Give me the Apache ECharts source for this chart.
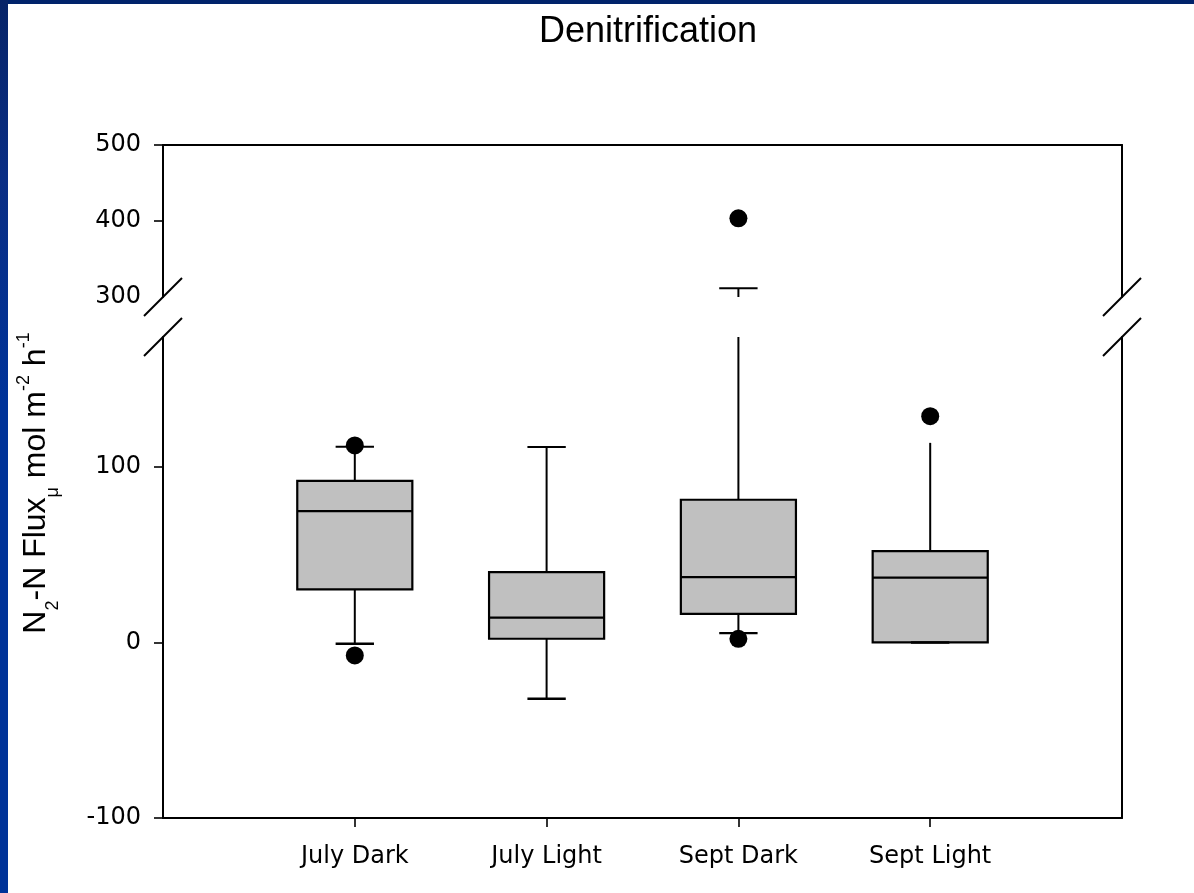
<!DOCTYPE html>
<html>
<head>
<meta charset="utf-8">
<title>Denitrification</title>
<script src="https://cdn.jsdelivr.net/npm/echarts@6/dist/echarts.min.js"></script>
<style>
  html, body { margin: 0; padding: 0; background: #fff; }
  #wrap { position: relative; width: 1194px; height: 893px; overflow: hidden; background: #fff; }
  #chart { position: absolute; left: 0; top: 0; width: 1194px; height: 893px; }
  .bar-top { position: absolute; left: 0; top: 0; width: 1194px; height: 4px; background: #00236b; z-index: 2; }
  .bar-left { position: absolute; left: 0; top: 0; width: 8px; height: 893px; z-index: 2;
    background: linear-gradient(to bottom, #072468 0%, #0a2e84 20%, #003399 45%, #003399 100%); }
</style>
</head>
<body>
<div id="wrap">
  <div id="chart"></div>
  <div class="bar-top"></div>
  <div class="bar-left"></div>
</div>
<script>
// data
const categories = ['July Dark', 'July Light', 'Sept Dark', 'Sept Light']
const whiskerLow = [-0.7, -32.1, 5.3, 0]
const quartile1 = [30.2, 2.1, 16.3, 0]
const medians = [74.8, 14.1, 37.2, 36.9]
const quartile3 = [92.0, 40.1, 81.3, 52.0]
const whiskerHigh = [111.5, 111.3, 311.5, 113.7]
const outlierCategory = [0, 0, 2, 2, 3]
const outlierValues = [112.2, -7.4, 403.6, 2.1, 128.9]
const upperTicks = [300, 400, 500]
const lowerTicks = [-100, 0, 100]

// broken y axis: lower part and upper part
const lowerRange = [-100, 174]
const upperRange = [300, 500]

// rendering settings
const BOX_WIDTH = 0.6 // in category units
const CAP_WIDTH = 0.2
const topCapShown = [true, true, true, false]
const LABEL_FONT = 'DejaVu Sans'
const AXIS_COLOR = '#000'

const boxData = categories.map((c, i) => [i + 1, whiskerLow[i], quartile1[i], medians[i], quartile3[i], whiskerHigh[i]])
const outlierData = outlierValues.map((v, k) => [outlierCategory[k] + 1, v])

const renderBox = (params, api) => {
  const x = api.value(0)
  const lo = api.coord([x, api.value(1)])
  const q1 = api.coord([x, api.value(2)])
  const md = api.coord([x, api.value(3)])
  const q3 = api.coord([x, api.value(4)])
  const hi = api.coord([x, api.value(5)])
  const boxW = api.size([BOX_WIDTH, 0])[0]
  const capW = api.size([CAP_WIDTH, 0])[0]
  const cx = md[0]
  const lineStyle = { stroke: '#000', lineWidth: 2, fill: null }

  const children = [
    { type: 'line', shape: { x1: cx, y1: q3[1], x2: cx, y2: hi[1] }, style: lineStyle },
    { type: 'line', shape: { x1: cx, y1: q1[1], x2: cx, y2: lo[1] }, style: lineStyle },
    {
      type: 'rect',
      shape: { x: cx - boxW / 2, y: q3[1], width: boxW, height: q1[1] - q3[1] },
      style: { fill: '#c0c0c0', stroke: '#000', lineWidth: 2.2 }
    },
    { type: 'line', shape: { x1: cx - boxW / 2, y1: md[1], x2: cx + boxW / 2, y2: md[1] }, style: { stroke: '#000', lineWidth: 2.2 } }
  ]
  if (topCapShown[params.dataIndex]) {
    children.push({ type: 'line', shape: { x1: cx - capW / 2, y1: hi[1], x2: cx + capW / 2, y2: hi[1] }, style: lineStyle })
  }
  // bottom cap drawn last so it sits over the box edge
  children.push({ type: 'line', shape: { x1: cx - capW / 2, y1: lo[1], x2: cx + capW / 2, y2: lo[1] }, style: { stroke: '#000', lineWidth: 2.4 } })
  return { type: 'group', children }
}

const axisLine = { show: true, onZero: false, lineStyle: { color: AXIS_COLOR, width: 2 } }
const labelStyle = { color: '#000', fontFamily: LABEL_FONT, fontSize: 24 }

const frameAxis = (gridIndex, position, range) => ({
  type: 'value', gridIndex, position, min: range[0], max: range[1],
  axisLine, axisTick: { show: false }, axisLabel: { show: false }, splitLine: { show: false }
})

const chart = echarts.init(document.getElementById('chart'), null, { renderer: 'canvas' })

const option = {
  animation: false,
  backgroundColor: 'transparent',
  title: {
    text: 'Denitrification',
    left: 643,
    top: 9,
    textAlign: 'center',
    textStyle: { fontFamily: 'Liberation Sans', fontSize: 36, fontWeight: 'normal', color: '#000' }
  },
  grid: [
    { left: 163, width: 959, top: 145, height: 152, containLabel: false },
    { left: 163, width: 959, top: 337, height: 481, containLabel: false }
  ],
  xAxis: [
    {
      type: 'value', gridIndex: 0, position: 'top', min: 0, max: 5,
      axisLine, axisTick: { show: false }, axisLabel: { show: false }, splitLine: { show: false }
    },
    {
      type: 'value', gridIndex: 1, position: 'bottom', min: 0, max: 5, interval: 1,
      axisLine,
      axisTick: { show: true, length: 9, customValues: [1, 2, 3, 4], lineStyle: { color: AXIS_COLOR, width: 1.6 } },
      axisLabel: {
        ...labelStyle, margin: 27, customValues: [1, 2, 3, 4],
        formatter: (v) => categories[v - 1] || ''
      },
      splitLine: { show: false }
    }
  ],
  yAxis: [
    {
      type: 'value', gridIndex: 0, position: 'left', min: upperRange[0], max: upperRange[1], interval: 100,
      axisLine,
      axisTick: { show: true, length: 9, customValues: upperTicks.slice(1), lineStyle: { color: AXIS_COLOR, width: 1.6 } },
      axisLabel: { ...labelStyle, margin: 22, customValues: upperTicks },
      splitLine: { show: false }
    },
    frameAxis(0, 'right', upperRange),
    {
      type: 'value', gridIndex: 1, position: 'left', min: lowerRange[0], max: lowerRange[1], interval: 100,
      axisLine,
      axisTick: { show: true, length: 9, customValues: lowerTicks, lineStyle: { color: AXIS_COLOR, width: 1.6 } },
      axisLabel: { ...labelStyle, margin: 22, customValues: lowerTicks },
      splitLine: { show: false }
    },
    frameAxis(1, 'right', lowerRange)
  ],
  series: [
    {
      type: 'custom', xAxisIndex: 0, yAxisIndex: 0, clip: true,
      renderItem: renderBox, encode: { x: 0, y: [1, 2, 3, 4, 5] }, data: boxData
    },
    {
      type: 'custom', xAxisIndex: 1, yAxisIndex: 2, clip: true,
      renderItem: renderBox, encode: { x: 0, y: [1, 2, 3, 4, 5] }, data: boxData
    },
    {
      type: 'scatter', xAxisIndex: 0, yAxisIndex: 0, clip: true,
      symbol: 'circle', symbolSize: 18, itemStyle: { color: '#000', opacity: 1 }, data: outlierData
    },
    {
      type: 'scatter', xAxisIndex: 1, yAxisIndex: 2, clip: true,
      symbol: 'circle', symbolSize: 18, itemStyle: { color: '#000', opacity: 1 }, data: outlierData
    }
  ]
}

chart.setOption(option)

// break marks on both side axes, placed through the axis scales
const SLASH = 19
const breakPoints = [
  chart.convertToPixel({ gridIndex: 0 }, [0, upperRange[0]]),
  chart.convertToPixel({ gridIndex: 0 }, [5, upperRange[0]]),
  chart.convertToPixel({ gridIndex: 1 }, [0, lowerRange[1]]),
  chart.convertToPixel({ gridIndex: 1 }, [5, lowerRange[1]])
]
const slashes = breakPoints.map(([px, py]) => ({
  type: 'line',
  shape: { x1: px - SLASH, y1: py + SLASH, x2: px + SLASH, y2: py - SLASH },
  style: { stroke: '#000', lineWidth: 2 }
}))

const axisName = {
  type: 'text',
  x: 36,
  y: 483,
  rotation: Math.PI / 2,
  style: {
    text: '{b|N}{s|2}{b|-N Flux}{s|\u03bc}{b| mol m}{p|-2}{b| h}{p|-1}',
    align: 'center',
    verticalAlign: 'middle',
    fill: '#000',
    rich: {
      b: { fontFamily: 'Liberation Sans', fontSize: 32, lineHeight: 32, fill: '#000' },
      s: { fontFamily: 'Liberation Sans', fontSize: 18, lineHeight: 18, padding: [34, 0, 0, 0], fill: '#000' },
      p: { fontFamily: 'Liberation Sans', fontSize: 18, lineHeight: 18, padding: [0, 0, 24, 0], fill: '#000' }
    }
  }
}

chart.setOption({ graphic: [...slashes, axisName] })
</script>
</body>
</html>
